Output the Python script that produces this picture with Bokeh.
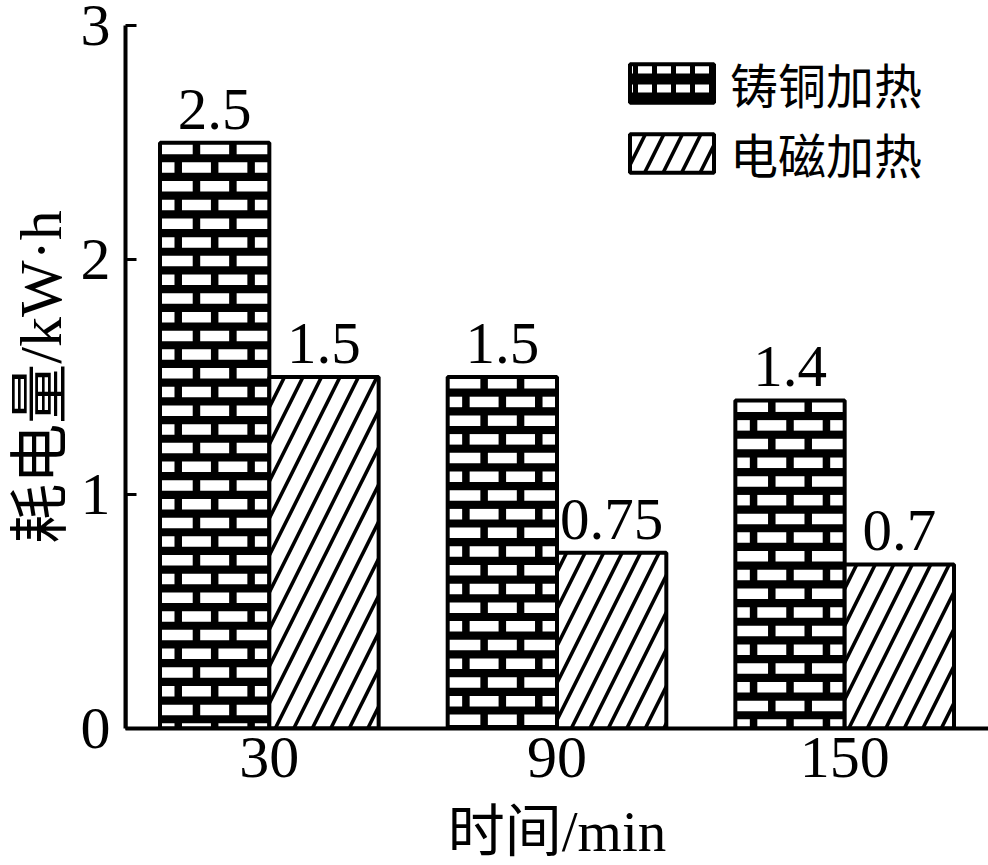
import numpy as np
from bokeh.plotting import figure
from bokeh.models import (ColumnDataSource, FixedTicker, Legend, LegendItem,
                          LabelSet, Range1d)
from bokeh.embed import file_html
from bokeh.resources import INLINE

times = ["30", "90", "150"]
cast_copper = [2.5, 1.5, 1.4]
electromagnetic = [1.5, 0.75, 0.7]
cast_labels = ["2.5", "1.5", "1.4"]
em_labels = ["1.5", "0.75", "0.7"]
series_names = ["铸铜加热", "电磁加热"]
y_ticks = [0, 1, 2, 3]

# layout constants (pixels)
W, H = 988, 865
BL, BR, BT, BB = 125, 0, 25, 137
FW, FH = W - BL - BR, H - BT - BB
Y_MAX = 3
PX_X = FW / len(times)          # px per category unit
PX_Y = FH / Y_MAX               # px per y unit

centers = np.arange(len(times)) + 0.5
BAR_W = 0.38
xa = centers - BAR_W / 2
xb = centers + BAR_W / 2

src = ColumnDataSource(dict(xa=xa, xb=xb, a=cast_copper, b=electromagnetic,
                            la=cast_labels, lb=em_labels))

SERIF = "'Liberation Serif', 'Noto Sans CJK SC'"
CJK = "'Noto Sans CJK SC'"

p = figure(width=W, height=H, x_range=Range1d(0, len(times)),
           y_range=Range1d(0, Y_MAX),
           output_backend="svg", toolbar_location=None,
           min_border_left=BL, min_border_right=BR, min_border_top=BT,
           min_border_bottom=BB)
p.outline_line_color = None
p.xgrid.grid_line_color = None
p.ygrid.grid_line_color = None

# ---- brick bars: black body + white bricks + outline ----
p.vbar(x="xa", top="a", width=BAR_W, source=src, fill_color="black",
       line_color=None)

row_p = 18.7 / PX_Y
white_h = 10.5 / PX_Y
mortar = 7.5 / PX_X
inset = 1.0 / PX_Y
bl, br, bb, bt = [], [], [], []
for c, h in zip(xa, cast_copper):
    L, R = c - BAR_W / 2, c + BAR_W / 2
    k = 0
    while h - k * row_p - inset > 0:
        y_top = h - k * row_p - inset
        y_bot = max(y_top - white_h, 0.0)
        if k % 2 == 0:
            cuts = [1 / 3, 2 / 3]
        else:
            cuts = [1 / 6, 1 / 2, 5 / 6]
        edges = [L] + [L + f * BAR_W for f in cuts] + [R]
        for j in range(len(edges) - 1):
            lft = edges[j] + (mortar / 2 if j > 0 else 0)
            rgt = edges[j + 1] - (mortar / 2 if j < len(edges) - 2 else 0)
            bl.append(lft); br.append(rgt); bb.append(y_bot); bt.append(y_top)
        k += 1
p.quad(left=bl, right=br, bottom=bb, top=bt, fill_color="white",
       line_color=None)
p.vbar(x="xa", top="a", width=BAR_W, source=src, fill_color=None,
       line_color="black", line_width=4)

# ---- hatched bars ----
r2 = p.vbar(x="xb", top="b", width=BAR_W, source=src, fill_color="white",
            line_color="black", line_width=4,
            hatch_pattern="right_diagonal_line", hatch_scale=37,
            hatch_weight=3.6, hatch_color="black")

# legend proxy for the brick series (placed outside the visible x range)
leg_src = ColumnDataSource(dict(x=[-5.0], top=[1.0]))
r1 = p.vbar(x="x", top="top", width=BAR_W, source=leg_src, fill_color="black",
            line_color="black", line_width=4,
            hatch_pattern="horizontal_dash", hatch_color="white",
            hatch_scale=19, hatch_weight=8)

# ---- value labels ----
for xcol, tcol, ycol in (("xa", "la", "a"), ("xb", "lb", "b")):
    p.add_layout(LabelSet(x=xcol, y=ycol, text=tcol, source=src,
                          text_align="center", text_baseline="alphabetic",
                          y_offset=14, text_font="Liberation Serif",
                          text_font_size="59px", text_color="black"))

# ---- axes ----
for ax in (p.xaxis[0], p.yaxis[0]):
    ax.axis_line_width = 4
    ax.axis_line_color = "black"
    ax.major_label_text_font = "Liberation Serif"
    ax.major_label_text_font_size = "60px"
    ax.major_label_text_color = "black"
    ax.axis_label_text_font_style = "normal"
    ax.axis_label_text_color = "black"
    ax.axis_label_text_font = SERIF
    ax.minor_tick_line_color = None

p.xaxis.ticker = FixedTicker(ticks=list(centers))
p.xaxis.major_label_overrides = {float(c): t for c, t in zip(centers, times)}
p.xaxis.major_tick_line_color = None
p.xaxis.major_label_standoff = 3
p.xaxis.axis_label = "时间/min"
p.xaxis.axis_label_text_font_size = "57px"
p.xaxis.axis_label_standoff = 20

p.yaxis.ticker = FixedTicker(ticks=y_ticks)
p.yaxis.major_tick_in = 11
p.yaxis.major_tick_out = 0
p.yaxis.major_tick_line_width = 3
p.yaxis.major_label_standoff = 15
p.yaxis.axis_label = "耗电量/kW·h"
p.yaxis.axis_label_text_font_size = "60px"
p.yaxis.axis_label_standoff = 4

legend = Legend(items=[LegendItem(label=series_names[0], renderers=[r1]),
                       LegendItem(label=series_names[1], renderers=[r2])],
                location=(494, 540), orientation="vertical")
legend.glyph_width = 105
legend.glyph_height = 48
legend.label_height = 38
legend.label_standoff = 6
legend.spacing = 0
legend.padding = 0
legend.margin = 0
legend.border_line_color = None
legend.background_fill_alpha = 0
legend.label_text_font = CJK
legend.label_text_font_size = "48px"
legend.label_text_color = "black"
legend.label_text_baseline = "middle"
p.add_layout(legend, "center")

open("out.html", "w").write(file_html(p, INLINE))
